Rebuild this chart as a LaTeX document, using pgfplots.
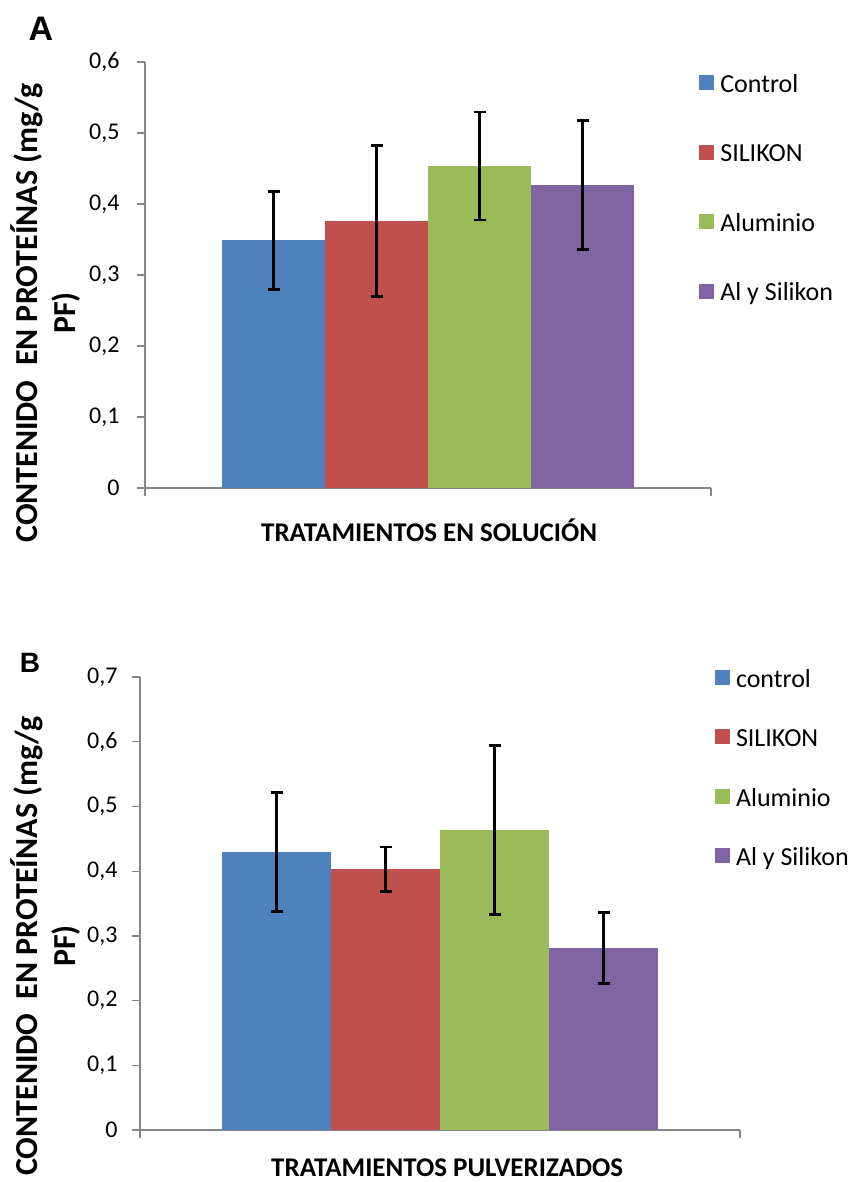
\documentclass[border=0pt]{standalone}
\usepackage{fontspec}
\setmainfont{Carlito}
\newfontfamily\lettfont{Liberation Sans}
\usepackage{pgfplots}
\pgfplotsset{compat=1.18}
\definecolor{cblue}{HTML}{4F81BD}
\definecolor{cred}{HTML}{C0504D}
\definecolor{cgreen}{HTML}{9BBB59}
\definecolor{cpurple}{HTML}{8064A2}
\definecolor{axisgray}{HTML}{868686}

\pgfplotsset{
  panel/.style={
    scale only axis,
    axis x line*=bottom,
    axis y line*=left,
    axis line style={draw=axisgray, line width=1.3pt},
    tick style={draw=axisgray, line width=1.3pt},
    major tick length=8pt,
    tick align=outside,
    xmin=-1, xmax=1,
    xtick={-1,1},
    xticklabels={,},
    ymin=0,
    ybar=0pt,
    yticklabel style={/pgf/number format/use comma, /pgf/number format/fixed, /pgf/number format/precision=1, /pgf/number format/assume math mode=true},
    ticklabel style={font=\fontsize{24}{28}\selectfont},
    legend cell align=left,
    legend image code/.code={\fill[##1] (0pt,-7.5pt) rectangle (15pt,7.5pt);},
    ylabel style={font=\bfseries\fontsize{32}{38}\selectfont, align=center, anchor=center},
    xlabel style={font=\bfseries\fontsize{27}{30}\selectfont, anchor=center},
  },
  errb/.style={error bars/.cd, y dir=both, y explicit,
    error bar style={draw=black, solid, line width=2.8pt},
    error mark options={rotate=90, mark size=6pt, draw=black, solid, line width=2.8pt}},
}

\begin{document}
\begin{tikzpicture}
\begin{axis}[panel,
  at={(145pt,-488pt)}, anchor=south west,
  width=566pt, height=426pt,
  ymax=0.6, ytick={0,0.1,0.2,0.3,0.4,0.5,0.6},
  yticklabel style={xshift=-14pt},
  bar width=103pt,
  ylabel={CONTENIDO\ \ EN PROTEÍNAS (mg/g\\PF)},
  ylabel style={at={(axis description cs:-0.175,0.411)}},
  xlabel={TRATAMIENTOS EN SOLUCIÓN},
  xlabel style={at={(axis description cs:0.502,-0.0986)}},
  legend style={draw=none, fill=none, at={(axis description cs:0.979,0.983)}, anchor=north west,
    row sep=43pt, font=\fontsize{26}{30}\selectfont, inner sep=0pt},
]
\addplot[fill=cblue, draw=none, errb] coordinates {(0,0.349) +- (0,0.069)};
\addlegendentry{\hspace{4pt}\strut Control}
\addplot[fill=cred, draw=none, errb] coordinates {(0,0.376) +- (0,0.106)};
\addlegendentry{\hspace{4pt}\strut SILIKON}
\addplot[fill=cgreen, draw=none, errb] coordinates {(0,0.4535) +- (0,0.076)};
\addlegendentry{\hspace{4pt}\strut Aluminio}
\addplot[fill=cpurple, draw=none, errb] coordinates {(0,0.427) +- (0,0.091)};
\addlegendentry{\hspace{4pt}\strut Al y Silikon}
\end{axis}

\begin{axis}[panel,
  at={(140pt,-1130pt)}, anchor=south west,
  width=600pt, height=453pt,
  ymax=0.7, ytick={0,0.1,0.2,0.3,0.4,0.5,0.6,0.7},
  yticklabel style={xshift=-11pt},
  bar width=109pt,
  ylabel={CONTENIDO\ \ EN PROTEÍNAS (mg/g\\PF)},
  ylabel style={at={(axis description cs:-0.157,0.406)}},
  xlabel={TRATAMIENTOS PULVERIZADOS},
  xlabel style={at={(axis description cs:0.512,-0.084)}},
  legend style={draw=none, fill=none, at={(axis description cs:0.958,1.029)}, anchor=north west,
    row sep=33pt, font=\fontsize{26}{30}\selectfont, inner sep=0pt},
]
\addplot[fill=cblue, draw=none, errb] coordinates {(0,0.4296) +- (0,0.092)};
\addlegendentry{\hspace{4pt}\strut control}
\addplot[fill=cred, draw=none, errb] coordinates {(0,0.4028) +- (0,0.0345)};
\addlegendentry{\hspace{4pt}\strut SILIKON}
\addplot[fill=cgreen, draw=none, errb] coordinates {(0,0.4636) +- (0,0.130)};
\addlegendentry{\hspace{4pt}\strut Aluminio}
\addplot[fill=cpurple, draw=none, errb] coordinates {(0,0.2813) +- (0,0.0545)};
\addlegendentry{\hspace{4pt}\strut Al y Silikon}
\end{axis}

\node[font=\lettfont\bfseries\fontsize{34}{34}\selectfont] at (41pt,-29pt) {A};
\node[font=\lettfont\bfseries\fontsize{28}{28}\selectfont] at (30pt,-662.5pt) {B};

\pgfresetboundingbox
\path (0,0) rectangle (853pt,-1182pt);
\end{tikzpicture}
\end{document}
